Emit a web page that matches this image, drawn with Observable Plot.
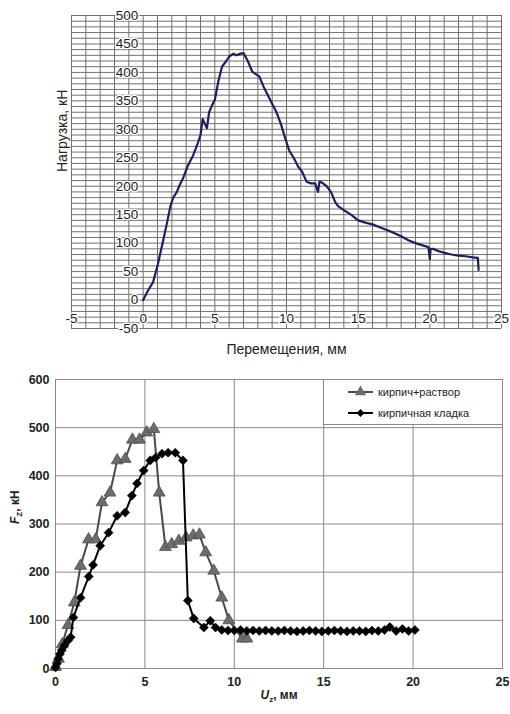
<!DOCTYPE html>
<html>
<head>
<meta charset="utf-8">
<script src="https://cdn.jsdelivr.net/npm/d3@7"></script>
<script src="https://cdn.jsdelivr.net/npm/@observablehq/plot@0.6"></script>
<style>
  html, body { margin: 0; padding: 0; background: #fff; }
  #top, #bottom { position: relative; width: 510px; }
  svg { display: block; }
  #legend { position: absolute; left: 323px; top: 14px; width: 180px; height: 46px;
            background: #fff; border: 1px solid #888; box-sizing: border-box; }
</style>
</head>
<body>
<div id="top"></div>
<div id="bottom"><div id="legend"></div></div>
<script>
// ---------- Top chart data ----------
const topDisp = [0, 0.3, 0.7, 1.0, 1.4, 1.7, 1.9, 2.1, 2.35, 2.6, 2.8, 3.1, 3.5, 3.8, 4.0, 4.15, 4.3, 4.45, 4.6, 4.8, 5.0, 5.25, 5.5, 5.8, 6.0, 6.3, 6.5, 6.8, 7.0, 7.3, 7.6, 7.8, 8.1, 8.4, 8.7, 9.0, 9.3, 9.6, 9.9, 10.2, 10.5, 10.8, 11.1, 11.4, 11.7, 12.0, 12.2, 12.3, 12.5, 12.8, 13.1, 13.4, 13.6, 14.0, 14.5, 15.0, 15.5, 16.0, 16.5, 17.0, 17.5, 18.0, 18.5, 19.0, 19.5, 19.9, 20.0, 20.05, 20.2, 20.6, 21.0, 21.5, 22.0, 22.5, 23.0, 23.35, 23.4];
const topLoad = [0, 15, 32, 60, 105, 140, 165, 180, 190, 205, 215, 235, 255, 275, 290, 318, 310, 302, 330, 342, 352, 385, 410, 420, 428, 433, 430, 433, 434, 420, 402, 398, 393, 375, 360, 345, 330, 310, 285, 262, 250, 235, 225, 208, 205, 205, 190, 208, 206, 200, 190, 172, 165, 158, 150, 140, 136, 133, 128, 123, 118, 112, 105, 100, 96, 93, 72, 90, 90, 86, 83, 80, 78, 77, 75, 74, 53];
const topXTicks = [-5, 0, 5, 10, 15, 20, 25];
const topYTicks = [-50, 0, 50, 100, 150, 200, 250, 300, 350, 400, 450, 500];
const topXTitle = "Перемещения, мм";
const topYTitle = "Нагрузка, кН";

// ---------- Bottom chart data ----------
const triX = [0, 0.17, 0.37, 0.7, 1.05, 1.4, 1.85, 2.25, 2.6, 3.05, 3.45, 3.9, 4.3, 4.7, 5.1, 5.5, 5.8, 6.15, 6.5, 6.9, 7.3, 7.7, 8.05, 8.4, 8.85, 9.3, 9.7, 10.45, 10.7];
const triY = [3, 20, 50, 90, 137, 213, 268, 268, 345, 365, 432, 435, 475, 475, 490, 497, 365, 252, 258, 265, 272, 276, 278, 241, 203, 147, 100, 62, 62];
const diaX = [0, 0.08, 0.15, 0.25, 0.35, 0.5, 0.7, 0.85, 1.0, 1.4, 1.86, 2.1, 2.5, 2.97, 3.45, 3.9, 4.27, 4.56, 4.93, 5.3, 5.6, 5.96, 6.3, 6.7, 7.13, 7.4, 7.73, 8.3, 8.66, 8.95, 9.3, 9.65, 10.0, 10.35, 10.7, 11.05, 11.4, 11.75, 12.1, 12.45, 12.8, 13.15, 13.5, 13.85, 14.2, 14.55, 14.9, 15.25, 15.6, 15.95, 16.3, 16.65, 17.0, 17.35, 17.7, 18.05, 18.4, 18.7, 19.05, 19.4, 19.75, 20.1];
const diaY = [2, 10, 20, 30, 38, 48, 58, 65, 106, 147, 191, 215, 255, 282, 317, 324, 359, 384, 411, 432, 438, 446, 448, 448, 432, 141, 104, 85, 99, 85, 80, 79, 79, 80, 78, 79, 78, 79, 78, 78, 79, 78, 77, 78, 79, 78, 77, 78, 79, 78, 77, 78, 78, 77, 79, 78, 80, 86, 78, 82, 78, 80];
const botXTicks = [0, 5, 10, 15, 20, 25];
const botYTicks = [0, 100, 200, 300, 400, 500, 600];
const seriesNames = ["кирпич+раствор", "кирпичная кладка"];

const topData = topDisp.map((x, i) => ({x, y: topLoad[i]}));
const triData = triX.map((x, i) => ({x, y: triY[i]}));
const diaData = diaX.map((x, i) => ({x, y: diaY[i]}));

const FONT = "'Liberation Sans', Arial, sans-serif";

// ---------- Top chart ----------
const topChart = Plot.plot({
  width: 510, height: 365,
  marginLeft: 71, marginRight: 9, marginTop: 15, marginBottom: 37,
  style: {fontFamily: FONT, background: "#fff", overflow: "visible"},
  x: {domain: [-5, 25], axis: null},
  y: {domain: [-50, 500], axis: null},
  marks: [
    Plot.ruleX(d3.range(-5, 26, 1), {stroke: "#707070", strokeWidth: 1}),
    Plot.ruleY(d3.range(-50, 501, 10), {stroke: "#707070", strokeWidth: 1}),
    Plot.line(topData, {x: "x", y: "y", stroke: "#1b2160", strokeWidth: 2.2, strokeLinejoin: "round"}),
    Plot.text(topYTicks, {x: 0, y: d => d, text: d => String(d), textAnchor: "end", dx: -5,
      fontSize: 13.5, fill: "#222", stroke: "#fff", strokeWidth: 2.5}),
    Plot.text(topXTicks, {x: d => d, text: d => String(d), frameAnchor: "bottom", dy: -6,
      fontSize: 13.5, fill: "#222", stroke: "#fff", strokeWidth: 2.5}),
    Plot.text([topXTitle], {text: d => d, frameAnchor: "bottom", dy: 25, fontSize: 14, fill: "#222"}),
    Plot.text([topYTitle], {text: d => d, frameAnchor: "left", rotate: -90, dx: -9, fontSize: 14, fill: "#222"})
  ]
});
document.getElementById("top").appendChild(topChart);

// ---------- Bottom chart ----------
const botChart = Plot.plot({
  width: 510, height: 349,
  marginLeft: 55, marginRight: 8, marginTop: 14, marginBottom: 46,
  style: {fontFamily: FONT, background: "#fff", overflow: "visible"},
  x: {domain: [0, 25], axis: null},
  y: {domain: [0, 600], axis: null},
  marks: [
    Plot.ruleX(botXTicks, {stroke: "#8a8a8a", strokeWidth: 1}),
    Plot.ruleY(botYTicks, {stroke: "#8a8a8a", strokeWidth: 1}),
    Plot.frame({stroke: "#888"}),
    Plot.line(triData, {x: "x", y: "y", stroke: "#4a4a4a", strokeWidth: 2}),
    Plot.dot(triData, {x: "x", y: "y", symbol: "triangle", r: 4.4, fill: "#6c6c6c", stroke: "#4e4e4e", strokeWidth: 0.8}),
    Plot.line(diaData, {x: "x", y: "y", stroke: "#000", strokeWidth: 2}),
    Plot.dot(diaData, {x: "x", y: "y", symbol: "diamond2", r: 4.1, fill: "#000", stroke: "#000", strokeWidth: 0.5}),
    Plot.text(botYTicks, {y: d => d, text: d => String(d), frameAnchor: "left", textAnchor: "end", dx: -6,
      fontSize: 12.5, fontWeight: "bold", fill: "#222"}),
    Plot.text(botXTicks, {x: d => d, text: d => String(d), frameAnchor: "bottom", dy: 17,
      fontSize: 12.5, fontWeight: "bold", fill: "#222"}),
    Plot.text(["Uz, мм"], {text: d => d, frameAnchor: "bottom", dy: 30, fontSize: 12, fontWeight: "bold", fill: "#222"}),
    Plot.text(["Fz, кН"], {text: d => d, frameAnchor: "left", rotate: -90, dx: -40, fontSize: 12, fontWeight: "bold", fill: "#222"})
  ]
});
document.getElementById("bottom").insertBefore(botChart, document.getElementById("legend"));

// subscripts for axis titles
d3.select(botChart).selectAll("text").each(function() {
  const t = this.textContent;
  if (t === "Uz, мм") this.innerHTML = '<tspan font-style="italic">U</tspan><tspan dy="3" font-size="8">z</tspan><tspan dy="-3">, мм</tspan>';
  if (t === "Fz, кН") this.innerHTML = '<tspan font-style="italic">F</tspan><tspan dy="3" font-size="8">Z</tspan><tspan dy="-3">, кН</tspan>';
});

// ---------- Legend ----------
const leg = d3.select("#legend").append("svg").attr("width", 180).attr("height", 46)
  .style("position", "absolute").style("left", "-1px").style("top", "-1px");
const rows = [
  {name: seriesNames[0], y: 13, color: "#4a4a4a", fill: "#6c6c6c", sym: d3.symbolTriangle, size: 55},
  {name: seriesNames[1], y: 34, color: "#000", fill: "#000", sym: d3.symbolDiamond2, size: 40}
];
rows.forEach(r => {
  leg.append("line").attr("x1", 25).attr("x2", 50).attr("y1", r.y).attr("y2", r.y)
    .attr("stroke", r.color).attr("stroke-width", 2);
  leg.append("path").attr("d", d3.symbol(r.sym, r.size)()).attr("transform", `translate(37.5,${r.y})`)
    .attr("fill", r.fill);
  leg.append("text").attr("x", 55).attr("y", r.y).attr("dy", "0.35em")
    .attr("font-family", FONT).attr("font-size", 11).attr("fill", "#222").text(r.name);
});
</script>
</body>
</html>
